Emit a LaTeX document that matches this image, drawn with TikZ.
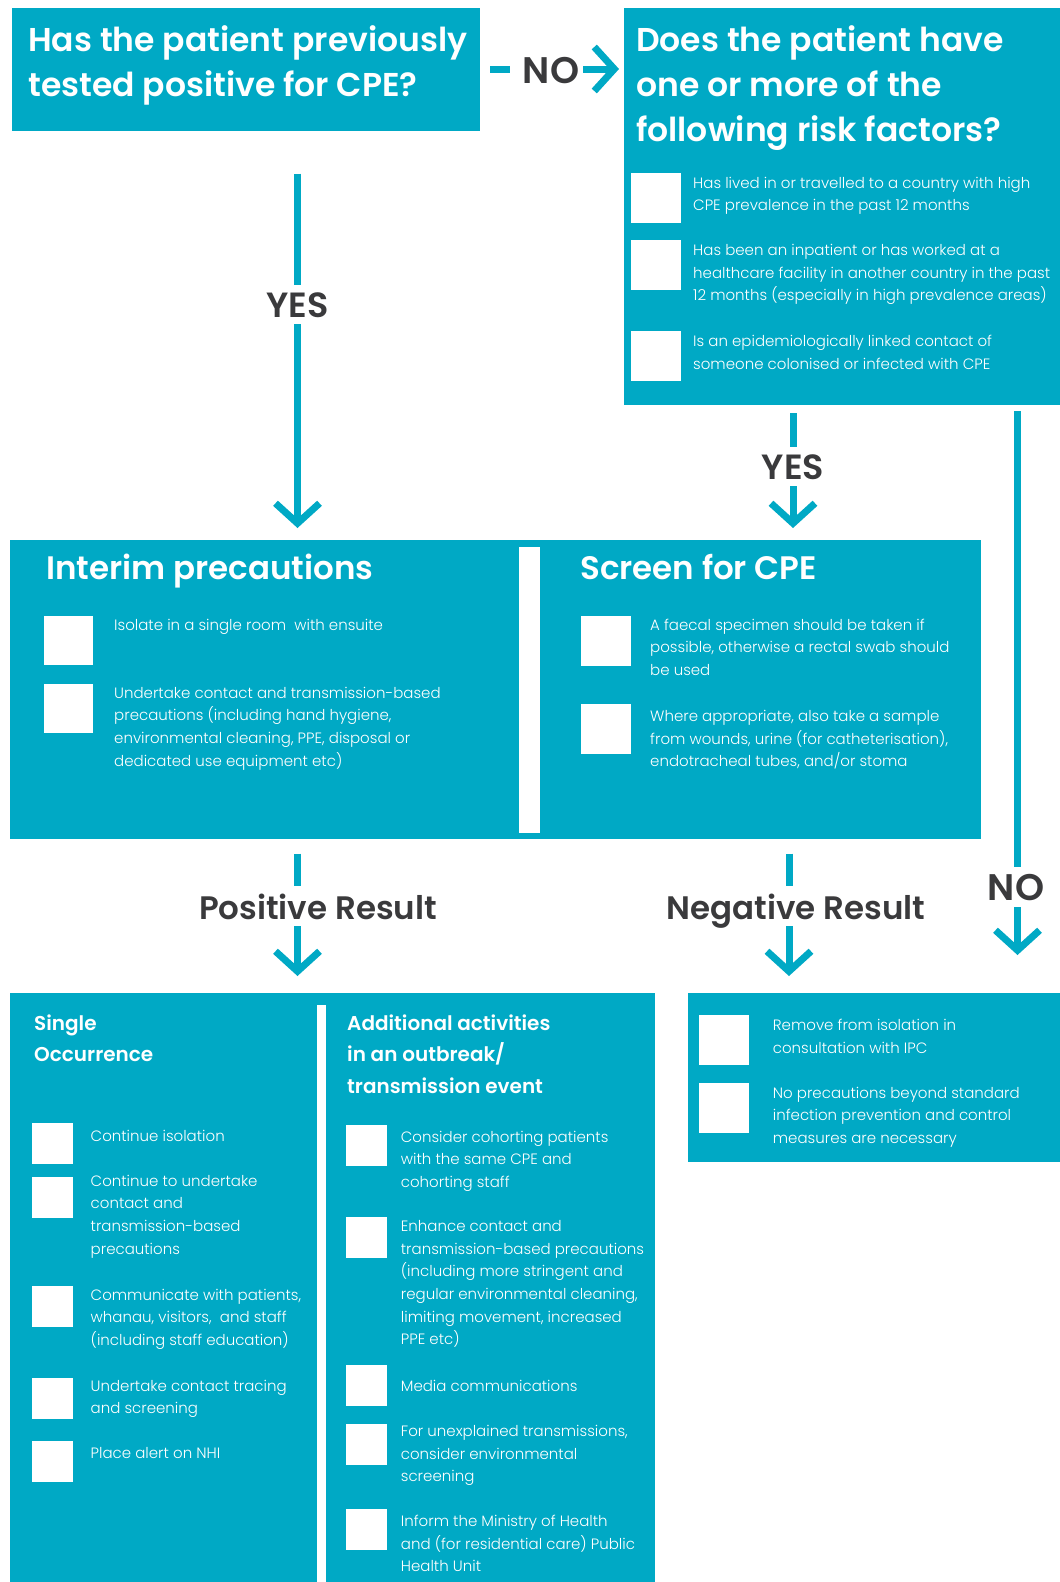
\documentclass[tikz,border=0pt]{standalone}
\usepackage{fontspec}
\IfFontExistsTF{Poppins SemiBold}
  {\IfFontExistsTF{Poppins Light}
     {\setmainfont{Poppins Light}[BoldFont={Poppins SemiBold}]}
     {\setmainfont{Poppins}[BoldFont={Poppins SemiBold}]}}
  {\setmainfont{Poppins}}
\usetikzlibrary{arrows.meta,positioning}

\definecolor{cpeteal}{RGB}{0,169,197}
\definecolor{cpegrey}{RGB}{58,58,60}

\tikzset{
  panel/.style={fill=cpeteal, inner sep=0pt, anchor=north west},
  tickbox/.style={fill=white, inner sep=0pt, minimum size=#1, anchor=north west},
  tickbox/.default=50pt,
  % text starts with \strut, so the node is placed by the baseline of its first line
  firstline/.style={anchor=north west, yshift=#1},
  bigq/.style={text=white, inner sep=0pt, align=left, firstline=31.5pt,
    font=\bfseries\fontsize{33}{45}\selectfont},
  boxhead/.style={text=white, inner sep=0pt, anchor=base west,
    font=\bfseries\fontsize{32.5}{32.5}\selectfont},
  colhead/.style={text=white, inner sep=0pt, align=left, firstline=22.05pt,
    font=\bfseries\fontsize{20}{31.5}\selectfont},
  item/.style={text=white, inner sep=0pt, align=left, firstline=15.82pt,
    font=\fontsize{15}{22.6}\selectfont},
  answer/.style={text=cpegrey, inner xsep=4pt, inner ysep=7pt, anchor=base,
    text depth=0pt, font=\bfseries\fontsize{#1}{#1}\selectfont},
  answer/.default=32.5,
  flow/.style={draw=cpeteal, line width=7pt},
  flowarrow/.style={flow, -{Straight Barb[length=20pt,width=44pt]}},
}

\begin{document}
\begin{tikzpicture}[x=1pt,y=-1pt]
    \useasboundingbox (0,0) rectangle (1060,1582);

    % panels
    \node[panel, minimum width=468pt, minimum height=123pt] (qprev) at (12,8) {};
    \node[panel, minimum width=436pt, minimum height=397pt] (qrisk) at (624,8) {};
    \node[panel, minimum width=971pt, minimum height=299pt] (care) at (10,540) {};
    \node[panel, minimum width=645pt, minimum height=589pt] (posbox) at (10,993) {};
    \node[panel, minimum width=372pt, minimum height=169pt] (negbox) at (688,993) {};
    \fill[white] (519,547) rectangle (540,833);
    \fill[white] (317,1005) rectangle (326,1582);

    % questions
    \node[bigq] (qprevtxt) at (28,51) {\strut Has the patient previously\\tested positive for CPE?};
    \node[bigq] (qrisktxt) at (636,51) {\strut Does the patient have\\one or more of the\\following risk factors?};

    % risk factors
    \foreach \y [count=\i] in {173,240,331}
        \node[tickbox] (riskbox\i) at (631,\y) {};
    \node[item] (risk1) at (693,188) {\strut Has lived in or travelled to a country with high\\CPE prevalence in the past 12 months};
    \node[item] (risk2) at (693,255.5) {\strut Has been an inpatient or has worked at a\\healthcare facility in another country in the past\\12 months (especially in high prevalence areas)};
    \node[item] (risk3) at (693,346.5) {\strut Is an epidemiologically linked contact of\\someone colonised or infected with CPE};

    % NO to the right
    \coordinate (nodash) at (490,69);
    \node[answer=37] (notop) at (551,83) {NO};
    \draw[flow, shorten >=9pt] (nodash) -- (nodash -| notop.west);
    \draw[flowarrow, shorten >=5pt] (nodash -| notop.east) -- (nodash -| qrisk.west);

    % YES on the left
    \coordinate (yesltop) at (297.5,173.5);
    \node[answer=35] (yesl) at (297.5,317) {YES};
    \draw[flow] (yesltop) -- (yesl.north);
    \draw[flowarrow, shorten >=12pt] (yesl.south) -- (yesl.south |- care.north);

    % YES on the right
    \coordinate (yesrtop) at (793,413);
    \node[answer=35] (yesr) at (793,479) {YES};
    \draw[flow] (yesrtop) -- (yesr.north);
    \draw[flowarrow, shorten >=12pt] (yesr.south) -- (yesr.south |- care.north);

    % NO down the right side
    \coordinate (nortop) at (1017.5,411);
    \node[answer=37] (nor) at (1016,900) {NO};
    \draw[flow] (nortop) -- (nortop |- nor.north);
    \draw[flowarrow, shorten >=38pt] (nortop |- nor.south) -- (nortop |- negbox.north);

    % interim precautions
    \node[boxhead] (interim) at (46,579) {Interim precautions};
    \foreach \y [count=\i] in {616,684}
        \node[tickbox=49pt] (isobox\i) at (44,\y) {};
    \node[item] (iso1) at (114,630) {\strut Isolate in a single room~ with ensuite};
    \node[item] (iso2) at (114,698) {\strut Undertake contact and transmission-based\\precautions (including hand hygiene,\\environmental cleaning, PPE, disposal or\\dedicated use equipment etc)};

    % screening
    \node[boxhead] (screen) at (580,579) {Screen for CPE};
    \foreach \y [count=\i] in {616,704}
        \node[tickbox] (scrbox\i) at (581,\y) {};
    \node[item] (scr1) at (650,630) {\strut A faecal specimen should be taken if\\possible, otherwise a rectal swab should\\be used};
    \node[item] (scr2) at (650,721.5) {\strut Where appropriate, also take a sample\\from wounds, urine (for catheterisation),\\endotracheal tubes, and/or stoma};

    % results
    \coordinate (postop) at (297.5,853.5);
    \node[answer] (posres) at (318,919) {Positive Result};
    \draw[flow] (postop) -- (postop |- posres.north);
    \draw[flowarrow, shorten >=17pt] (postop |- posres.south) -- (postop |- posbox.north);

    \coordinate (negtop) at (789,853.5);
    \node[answer] (negres) at (796,919) {Negative Result};
    \draw[flow] (negtop) -- (negtop |- negres.north);
    \draw[flowarrow, shorten >=17pt] (negtop |- negres.south) -- (negtop |- negbox.north);

    % single occurrence
    \node[colhead] (single) at (34,1030) {\strut Single\\Occurrence};
    \foreach \y [count=\i] in {1123,1176.5,1286,1378,1440.6}
        \node[tickbox=41pt] (sglbox\i) at (31.5,\y) {};
    \node[item] (sgl1) at (90.5,1141) {\strut Continue isolation};
    \node[item] (sgl2) at (90.5,1186) {\strut Continue to undertake\\contact and\\transmission-based\\precautions};
    \node[item] (sgl3) at (90.5,1300) {\strut Communicate with patients,\\whanau, visitors,~ and staff\\(including staff education)};
    \node[item] (sgl4) at (90.5,1391) {\strut Undertake contact tracing\\and screening};
    \node[item] (sgl5) at (90.5,1458.5) {\strut Place alert on NHI};

    % outbreak
    \node[colhead] (outbreak) at (347,1030) {\strut Additional activities\\in an outbreak/\\transmission event};
    \foreach \y [count=\i] in {1125,1217,1364.6,1424,1508.6}
        \node[tickbox=41pt] (outbox\i) at (346,\y) {};
    \node[item] (out1) at (400.7,1142) {\strut Consider cohorting patients\\with the same CPE and\\cohorting staff};
    \node[item] (out2) at (400.7,1231.5) {\strut Enhance contact and\\transmission-based precautions\\(including more stringent and\\regular environmental cleaning,\\limiting movement, increased\\PPE etc)};
    \node[item] (out3) at (400.7,1391) {\strut Media communications};
    \node[item] (out4) at (400.7,1436.5) {\strut For unexplained transmissions,\\consider environmental\\screening};
    \node[item] (out5) at (400.7,1526.5) {\strut Inform the Ministry of Health\\and (for residential care) Public\\Health Unit};

    % negative result
    \foreach \y [count=\i] in {1015,1083}
        \node[tickbox] (negbox\i) at (699,\y) {};
    \node[item] (neg1) at (772.7,1030.5) {\strut Remove from isolation in\\consultation with IPC};
    \node[item] (neg2) at (772.7,1098) {\strut No precautions beyond standard\\infection prevention and control\\measures are necessary};
\end{tikzpicture}
\end{document}
